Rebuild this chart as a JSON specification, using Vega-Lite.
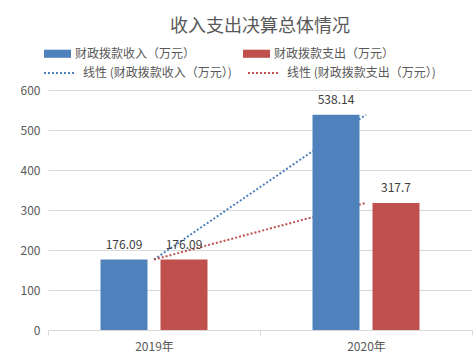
{
  "$schema": "https://vega.github.io/schema/vega-lite/v6.json",
  "width": 424,
  "height": 240,
  "autosize": {"type": "none"},
  "padding": {"left": 48, "top": 90, "right": 4, "bottom": 33},
  "background": "white",
  "title": {
    "text": "收入支出决算总体情况",
    "fontSize": 18,
    "font": "Noto Sans CJK SC",
    "fontWeight": "normal",
    "color": "#595959",
    "anchor": "middle",
    "offset": 4
  },
  "config": {
    "view": {"stroke": null},
    "font": "Noto Sans CJK SC"
  },
  "data": {
    "values": [
      {"year": "2019年", "series": "财政拨款收入（万元）", "trend": "线性 (财政拨款收入（万元）)", "value": 176.09},
      {"year": "2019年", "series": "财政拨款支出（万元）", "trend": "线性 (财政拨款支出（万元）)", "value": 176.09},
      {"year": "2020年", "series": "财政拨款收入（万元）", "trend": "线性 (财政拨款收入（万元）)", "value": 538.14},
      {"year": "2020年", "series": "财政拨款支出（万元）", "trend": "线性 (财政拨款支出（万元）)", "value": 317.7}
    ]
  },
  "encoding": {
    "x": {
      "field": "year",
      "type": "nominal",
      "title": null,
      "scale": {"paddingInner": 0, "paddingOuter": 0},
      "axis": {
        "labelAngle": 0,
        "labelFontSize": 12,
        "labelColor": "#595959",
        "labelPadding": 6,
        "domainColor": "#d9d9d9",
        "tickColor": "#d9d9d9",
        "tickSize": 5,
        "tickBand": "extent"
      }
    },
    "y": {
      "field": "value",
      "type": "quantitative",
      "title": null,
      "scale": {"domain": [0, 600], "nice": false},
      "axis": {
        "values": [0, 100, 200, 300, 400, 500, 600],
        "domain": false,
        "ticks": false,
        "labelPadding": 8,
        "labelFontSize": 12,
        "labelColor": "#595959",
        "gridColor": "#d9d9d9"
      }
    }
  },
  "layer": [
    {
      "mark": {"type": "line", "strokeDash": [2, 2], "strokeWidth": 2},
      "encoding": {
        "stroke": {
          "field": "trend",
          "type": "nominal",
          "scale": {
            "domain": ["线性 (财政拨款收入（万元）)", "线性 (财政拨款支出（万元）)"],
            "range": ["#4F81BD", "#C0504D"]
          },
          "legend": {
            "title": null,
            "orient": "none",
            "legendX": -5,
            "legendY": -33,
            "direction": "horizontal",
            "columns": 2,
            "columnPadding": 6,
            "symbolType": "stroke",
            "symbolSize": 900,
            "symbolStrokeWidth": 2,
            "symbolDash": [2, 2],
            "labelOffset": 8,
            "labelFontSize": 12,
            "labelColor": "#595959",
            "labelLimit": 300
          }
        }
      }
    },
    {
      "mark": {"type": "bar"},
      "encoding": {
        "xOffset": {
          "field": "series",
          "type": "nominal",
          "sort": ["财政拨款收入（万元）", "财政拨款支出（万元）"],
          "scale": {"paddingInner": 0.2167, "paddingOuter": 0.875}
        },
        "fill": {
          "field": "series",
          "type": "nominal",
          "scale": {
            "domain": ["财政拨款收入（万元）", "财政拨款支出（万元）"],
            "range": ["#4F81BD", "#C0504D"]
          },
          "legend": {
            "title": null,
            "orient": "none",
            "legendX": -4,
            "legendY": -50,
            "direction": "horizontal",
            "columns": 2,
            "columnPadding": 47,
            "symbolType": "M-1,-0.3H1V0.3H-1Z",
            "symbolSize": 729,
            "symbolStrokeWidth": 0,
            "labelOffset": 4,
            "labelFontSize": 12,
            "labelColor": "#595959",
            "labelLimit": 300
          }
        }
      }
    },
    {
      "mark": {"type": "text", "baseline": "bottom", "dy": -8, "fontSize": 12, "color": "#404040"},
      "encoding": {
        "xOffset": {
          "field": "series",
          "type": "nominal",
          "sort": ["财政拨款收入（万元）", "财政拨款支出（万元）"],
          "scale": {"paddingInner": 0.2167, "paddingOuter": 0.875}
        },
        "text": {"field": "value", "type": "quantitative"}
      }
    }
  ]
}
